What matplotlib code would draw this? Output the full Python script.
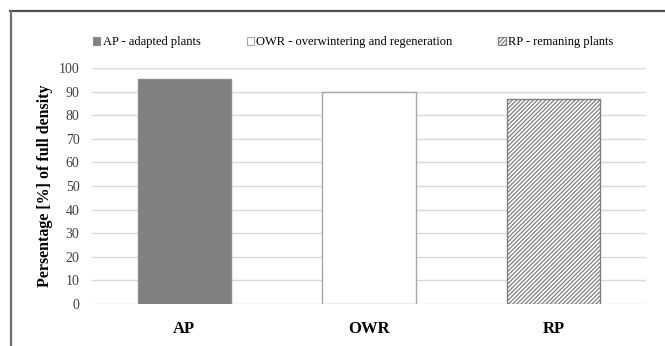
import matplotlib
matplotlib.use("Agg")
import matplotlib.pyplot as plt
from matplotlib.patches import Patch
from matplotlib.lines import Line2D

categories = ["AP", "OWR", "RP"]
values = [95.5, 90.0, 87.0]
legend_labels = [
    "AP - adapted plants",
    "OWR - overwintering and regeneration",
    "RP - remaning plants",
]
yticks = [0, 10, 20, 30, 40, 50, 60, 70, 80, 90, 100]

plt.rcParams["font.family"] = ["Liberation Serif", "DejaVu Serif"]
plt.rcParams["hatch.linewidth"] = 0.9
plt.rcParams["hatch.color"] = "#7f7f7f"

W, H = 665, 346
fig = plt.figure(figsize=(W / 100, H / 100), dpi=100)
ax = fig.add_axes([92 / W, 1 - 304 / H, (646 - 92) / W, (304 - 68) / H])

styles = [
    dict(facecolor="#808080", edgecolor="#8c8c8c", hatch=None),
    dict(facecolor="white", edgecolor="#a6a6a6", hatch=None),
    dict(facecolor="white", edgecolor="#7f7f7f", hatch="////////"),
]

x = list(range(len(categories)))
for xi, v, st in zip(x, values, styles):
    ax.bar(xi, v, width=0.505, linewidth=1.0, zorder=3, **st)

ax.set_xlim(-0.5, len(categories) - 0.5)
ax.set_ylim(0, 100)
ax.set_yticks(yticks)
ax.set_yticklabels([str(t) for t in yticks], fontsize=10, color="#404040")
ax.set_xticks(x)
ax.set_xticklabels(categories, fontsize=12, fontweight="bold")
ax.tick_params(axis="both", length=0)
ax.tick_params(axis="x", pad=12)
ax.tick_params(axis="y", pad=9)
ax.yaxis.grid(True, color="#d9d9d9", linewidth=1.0, zorder=0)
ax.set_axisbelow(True)
for s in ax.spines.values():
    s.set_visible(False)

ax.set_ylabel("Persentage [%] of full density", fontsize=11.5, fontweight="bold")
ax.yaxis.set_label_coords(-0.07, 0.5)

handles = [Patch(**{k: v for k, v in st.items()}, linewidth=0.8) for st in styles]
leg = fig.legend(
    handles, legend_labels, ncol=3, loc="center left",
    bbox_to_anchor=(88 / W, 1 - 42 / H), frameon=False,
    fontsize=9, handlelength=0.6, handleheight=0.6,
    handletextpad=0.2, columnspacing=3.65, borderaxespad=0,
)

# outer frame lines
fig.add_artist(Line2D([10 / W, 1.0], [1 - 11 / H, 1 - 11 / H],
                      transform=fig.transFigure, color="#505050", linewidth=1.6))
fig.add_artist(Line2D([11 / W, 11 / W], [0.0, 1 - 11 / H],
                      transform=fig.transFigure, color="#707070", linewidth=1.6))

fig.savefig("out.png", dpi=100)
